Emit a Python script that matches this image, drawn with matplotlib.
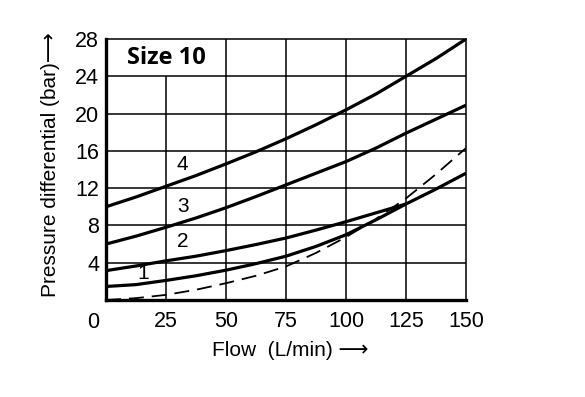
import matplotlib
matplotlib.use("Agg")
import matplotlib.pyplot as plt

# flow (L/min) and pressure differential (bar)
flow = [0, 12.5, 25, 37.5, 50, 62.5, 75, 87.5, 100, 112.5, 125, 137.5, 150]
curve4 = [10.0, 11.05, 12.2, 13.35, 14.6, 15.9, 17.3, 18.8, 20.4, 22.1, 24.0, 25.9, 28.0]
curve3 = [6.0, 6.85, 7.8, 8.8, 9.9, 11.1, 12.35, 13.6, 14.85, 16.3, 17.9, 19.4, 20.9]
curve1 = [1.45, 1.65, 2.1, 2.6, 3.2, 3.9, 4.7, 5.75, 7.0, 8.6, 10.3, 11.9, 13.6]
dashed = [0.0, 0.2, 0.55, 1.1, 1.8, 2.6, 3.6, 5.05, 6.75, 8.7, 10.9, 13.5, 16.3]

flow2 = [0, 12.5, 25, 37.5, 50, 62.5, 75, 87.5, 100, 112.5, 125]
curve2 = [3.15, 3.65, 4.2, 4.7, 5.3, 5.95, 6.65, 7.5, 8.4, 9.35, 10.3]

labels = ["4", "3", "2", "1"]
label_x = [32, 32, 32, 15.5]
label_y = [14.5, 10.0, 6.3, 2.85]

x_ticks = [25, 50, 75, 100, 125, 150]
y_ticks = [4, 8, 12, 16, 20, 24, 28]

plt.rcParams['font.family'] = ['Liberation Sans', 'DejaVu Sans']

fig = plt.figure(figsize=(5.85, 3.97), dpi=100)
ax = fig.add_axes([106 / 585, 97 / 397, 360 / 585, 261 / 397])
ax.set_xlim(0, 150)
ax.set_ylim(0, 28)

# grid drawn by hand: the 25 line stops under the title box
ax.vlines(25, 0, 24, color='black', lw=1.1, zorder=1)
for xv in [50, 75, 100, 125]:
	ax.vlines(xv, 0, 28, color='black', lw=1.1, zorder=1)
for yv in [4, 8, 12, 16, 20, 24]:
	ax.hlines(yv, 0, 150, color='black', lw=1.1, zorder=1)

ax.plot(flow, curve4, color='black', lw=2.3, solid_capstyle='butt', zorder=3)
ax.plot(flow, curve3, color='black', lw=2.3, solid_capstyle='butt', zorder=3)
ax.plot(flow2, curve2, color='black', lw=2.3, solid_capstyle='butt', zorder=3)
ax.plot(flow, curve1, color='black', lw=2.3, solid_capstyle='butt', zorder=3)
ax.plot(flow, dashed, color='black', lw=1.3, linestyle=(0, (8.3, 4.4)), zorder=3)

for t, lx, ly in zip(labels, label_x, label_y):
	ax.text(lx, ly, t, fontsize=15, ha='center', va='center', zorder=4)

ax.text(25, 26.0, "Size 10", fontsize=17, fontweight='bold', family=['Open Sans', 'DejaVu Sans'],
		ha='center', va='center', zorder=4)

for side in ['left', 'bottom']:
	ax.spines[side].set_linewidth(2.4)
for side in ['top', 'right']:
	ax.spines[side].set_linewidth(1.1)

ax.set_xticks(x_ticks)
ax.set_yticks(y_ticks)
ax.set_xticklabels([str(v) for v in x_ticks])
ax.set_yticklabels([str(v) for v in y_ticks])
ax.tick_params(axis='both', length=0, labelsize=15.5)
ax.tick_params(axis='x', pad=8)
ax.tick_params(axis='y', pad=5)
ax.text(-5.5, -2.4, "0", fontsize=15.5, ha='center', va='center', transform=ax.transData, clip_on=False)

fig.text(290 / 585, 1 - 351 / 397, "Flow  (L/min) \u27f6", fontsize=15, ha='center', va='center')
fig.text(51 / 585, 1 - 165 / 397, "Pressure differential (bar)\u27f6", fontsize=15,
		 rotation=90, ha='center', va='center')

fig.savefig("out.png", dpi=100)
